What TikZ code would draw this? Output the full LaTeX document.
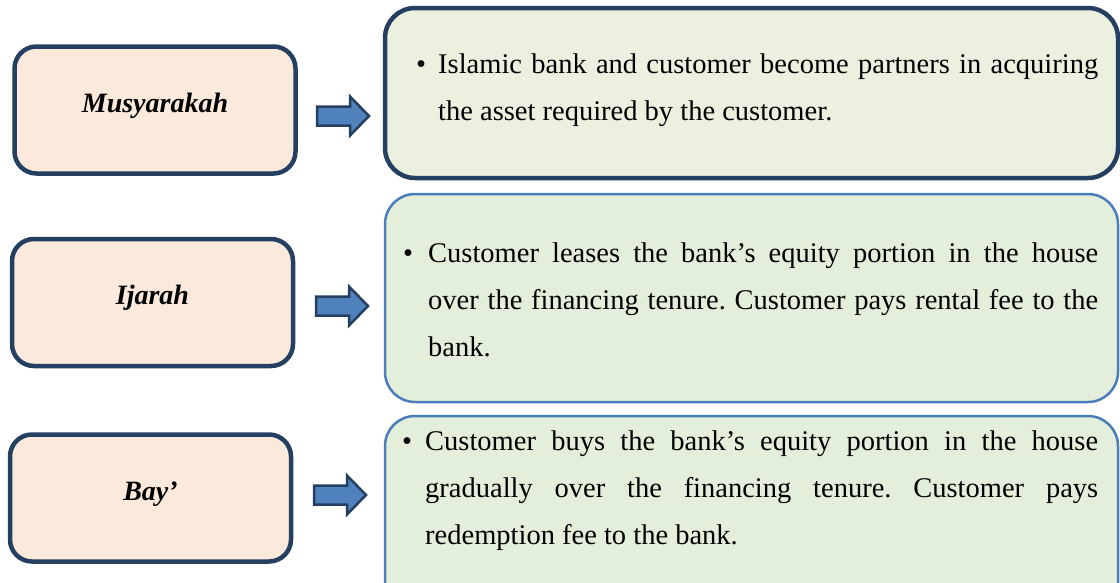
\documentclass[tikz,border=0pt]{standalone}
\usepackage{fontspec}
\setmainfont{Liberation Serif}
\definecolor{navy}{HTML}{243F60}
\definecolor{peach}{HTML}{FBE9DB}
\definecolor{sagetop}{HTML}{EBF1DE}
\definecolor{sage}{HTML}{E3EFDA}
\definecolor{steel}{HTML}{4A7EBB}
\definecolor{arrowblue}{HTML}{4F81BD}
\frenchspacing
\begin{document}
\begin{tikzpicture}[x=1pt,y=-1pt,
  termbox/.style={draw=navy, line width=4.5pt, fill=peach, rounded corners=22pt,
    minimum width=281pt, minimum height=127pt, inner sep=0pt,
    text height=14pt, text depth=10pt,
    font=\fontsize{28}{34}\selectfont\bfseries\itshape},
  descbox/.style={rounded corners=30pt, inner sep=0pt},
  firstbox/.style={descbox, draw=navy, line width=4.5pt, fill=sagetop},
  otherbox/.style={descbox, draw=steel, line width=2.5pt, fill=sage},
  desctext/.style={anchor=base west, inner sep=0pt,
    font=\fontsize{28.5}{47}\selectfont},
  blockarrow/.pic={\draw[navy, line width=2.5pt, fill=arrowblue, line join=miter]
    (-26,-9.5) -- (7,-9.5) -- (7,-19.5) -- (26,0) -- (7,19.5) -- (7,9.5) -- (-26,9.5) -- cycle;}
]
\clip (0,0) rectangle (1120,582);

% terms on the left
\node[termbox] (m1) at (155,110) {Musyarakah};
\node[termbox] (m2) at (152.5,302.5) {Ijarah};
\node[termbox] (m3) at (150.5,498) {Bay’};

% description panels on the right
\node[firstbox, minimum width=733pt, minimum height=170pt] (d1) at (751.5,93) {};
\node[otherbox, minimum width=733pt, minimum height=208pt] (d2) at (751.5,298) {};
\node[otherbox, minimum width=733pt, minimum height=204pt] (d3) at (751.5,518) {};

% block arrows between the columns
\pic at (343,116) {blockarrow};
\pic at (342,306) {blockarrow};
\pic at (340,495) {blockarrow};

% bulleted descriptions
\node[desctext] (t1) at (416,73) {\parbox[t]{682pt}{\hangindent=22pt\hangafter=1\noindent
  \makebox[22pt][l]{\textbullet}Islamic bank and customer become partners in acquiring\linebreak
  the asset required by the customer.}};
\node[desctext] (t2) at (403,262) {\parbox[t]{695pt}{\hangindent=25pt\hangafter=1\noindent
  \makebox[25pt][l]{\textbullet}Customer leases the bank’s equity portion in the house\linebreak
  over the financing tenure. Customer pays rental fee to the\linebreak
  bank.}};
\node[desctext] (t3) at (402,450) {\parbox[t]{696pt}{\hangindent=23pt\hangafter=1\noindent
  \makebox[23pt][l]{\textbullet}Customer buys the bank’s equity portion in the house\linebreak
  gradually over the financing tenure. Customer pays\linebreak
  redemption fee to the bank.}};
\end{tikzpicture}
\end{document}
